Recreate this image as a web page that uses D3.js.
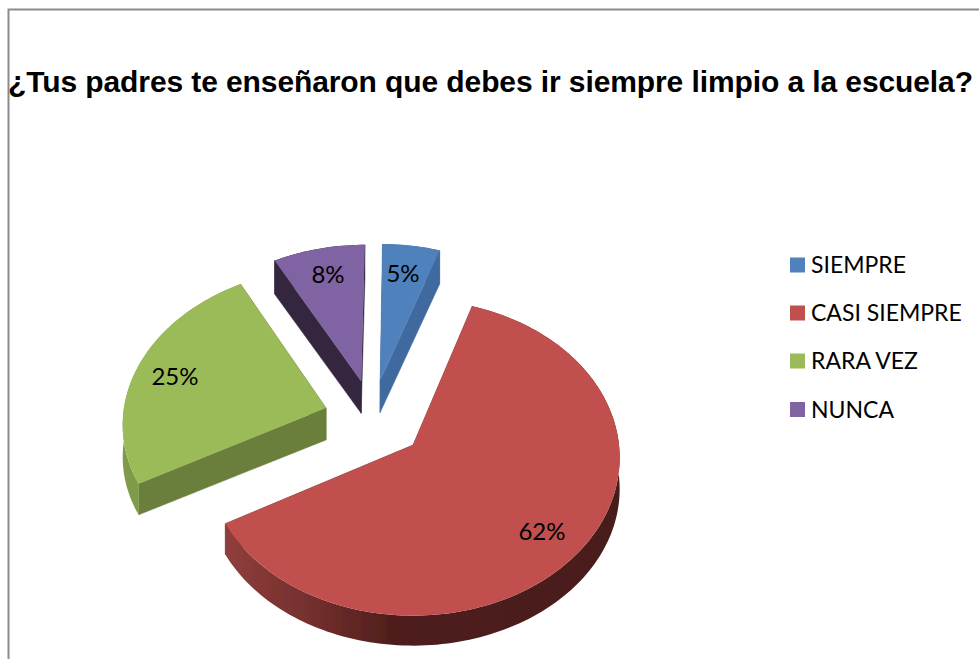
<!DOCTYPE html>
<html><head><meta charset="utf-8">
<script src="https://cdn.jsdelivr.net/npm/d3@7"></script>
<style>html,body{margin:0;padding:0;background:#fff;overflow:hidden}svg{display:block}</style>
</head><body><svg id="c" width="979" height="659"></svg>
<script>
const titleText = "¿Tus padres te enseñaron que debes ir siempre limpio a la escuela?";
const categories = ["SIEMPRE", "CASI SIEMPRE", "RARA VEZ", "NUNCA"];
const values = [5, 62, 25, 8];
const topColors = ["#4f81bd", "#c0504d", "#9bbb59", "#8064a2"];
const sideColors = ["#3f6b9f", "#7a3231", "#6b7f3b", "#35263f"];
const rimColors = ["#3f6b9f", "url(#redRim)", "#7f9a49", "#35263f"];

// layout: explosion of each slice on the pie's ground plane, in radii
const explodeU = [-0.165, 0, -0.43, -0.26];
const explodeV = [0.425, 0, 0.24, 0.42];
const labelPos = [[403, 272], [542, 530], [175, 375], [328, 273]];
const legendY = [265, 313, 361, 409.5];

const svg = d3.select("#c");
const defs = svg.append("defs");
const grad = defs.append("linearGradient").attr("id", "redRim")
  .attr("gradientUnits", "userSpaceOnUse").attr("x1", 228).attr("x2", 620).attr("y1", 0).attr("y2", 0);
[[0, "#8f3e3c"], [0.25, "#6e2c2a"], [0.42, "#4f1e1c"], [1, "#4a1c1a"]].forEach(s =>
  grad.append("stop").attr("offset", s[0]).attr("stop-color", s[1]));
defs.append("filter").attr("id", "soft").append("feGaussianBlur").attr("stdDeviation", 0.5);

// frame
svg.append("path").attr("d", "M979,9.5H8.5V659").attr("fill", "none").attr("stroke", "#8c8c8c").attr("stroke-width", 2);

// title
svg.append("text").text(titleText).attr("x", 8).attr("y", 92)
  .attr("font-family", "'Liberation Sans',Arial,sans-serif").attr("font-weight", "bold")
  .attr("font-size", 30).attr("textLength", 965).attr("lengthAdjust", "spacing").attr("fill", "#000");

// projection of the tilted pie
const cx = 413, cy = 445, a = 206, k = 157, p = 0.08;
const scaleX = d3.scaleLinear().domain([0, 1]).range([0, a]);
const scaleY = d3.scaleLinear().domain([0, 1]).range([0, k]);
function proj(u, v, down) {
  const s = 1 / (1 + p * v);
  const h = down ? 31.5 + 1.5 * v : 0;
  return [cx + scaleX(u) * s, cy - scaleY(v) * s + h];
}
const pieGen = d3.pie().sort(null).value(d => d);
const arcs = pieGen(values);
const line = d3.line();
const g = svg.append("g").attr("filter", "url(#soft)");

[0, 3, 2, 1].forEach(i => {
  const d = arcs[i], ou = explodeU[i], ov = explodeV[i];
  const n = Math.max(8, Math.ceil((d.endAngle - d.startAngle) * 40));
  const angles = d3.range(n + 1).map(j => d.startAngle + (d.endAngle - d.startAngle) * j / n);
  const rim = angles.map(t => [ou + Math.sin(t), ov + Math.cos(t)]);
  const apex = [ou, ov];
  const P = (q, down) => proj(q[0], q[1], down);
  // radial walls
  [rim[0], rim[n]].forEach(e => {
    g.append("path").attr("d", line([P(apex), P(e), P(e, true), P(apex, true)]) + "Z")
      .attr("fill", sideColors[i]).attr("stroke", sideColors[i]).attr("stroke-width", 0.5);
  });
  // outer wall
  g.append("path").attr("d", line(rim.map(q => P(q)).concat(rim.slice().reverse().map(q => P(q, true)))) + "Z")
    .attr("fill", rimColors[i]);
  // top face
  g.append("path").attr("d", line([P(apex)].concat(rim.map(q => P(q)))) + "Z").attr("fill", topColors[i]);
});

// value labels
const lab = svg.append("g").attr("font-family", "Lato,sans-serif").attr("font-size", 24).attr("fill", "#000");
values.forEach((v, i) => lab.append("text").text(v + "%").attr("x", labelPos[i][0]).attr("y", labelPos[i][1])
  .attr("text-anchor", "middle").attr("dominant-baseline", "central"));

// legend
const leg = svg.append("g").selectAll("g").data(categories).join("g")
  .attr("transform", (d, i) => `translate(790,${legendY[i]})`);
leg.append("rect").attr("x", 0).attr("y", -7.5).attr("width", 15).attr("height", 15).attr("fill", (d, i) => topColors[i]);
leg.append("text").text(d => d).attr("x", 21).attr("y", 8)
  .attr("font-family", "Lato,sans-serif").attr("font-size", 23).attr("fill", "#000");
</script></body></html>
